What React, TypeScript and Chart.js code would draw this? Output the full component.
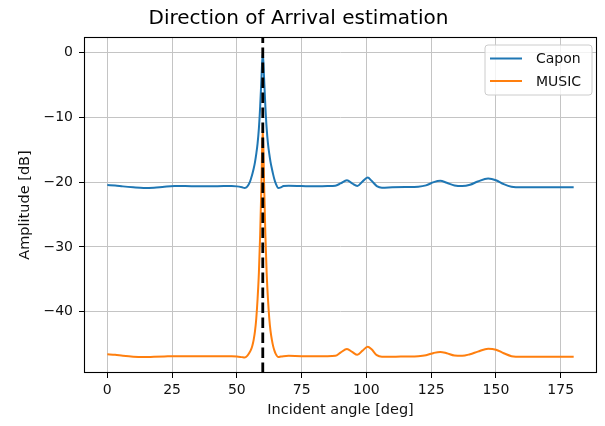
import { useEffect, useRef } from 'react';
import { Chart, registerables } from 'chart.js';

Chart.register(...registerables);

// Incident angles (deg) at which the spectra were sampled
const angles = [
  0, 3, 6, 10, 14, 18, 22, 26, 30, 35, 40, 45, 48, 50, 52, 53, 54, 55, 55.5, 56,
  56.5, 57, 57.5, 58, 58.5, 59, 59.5, 60, 60.5, 61, 61.5, 62, 62.5, 63, 63.5, 64,
  64.5, 65, 66, 67, 68, 70, 75, 80, 85, 88, 90, 92.5, 94.5, 96.5, 98.5, 100.5, 102,
  104, 106, 110, 115, 120, 123, 126, 128.5, 131, 134, 137, 140, 143, 147, 150, 153,
  156, 160, 165, 170, 175, 180,
];

// Capon spectrum (dB)
const caponDb = [
  -20.45, -20.5, -20.65, -20.8, -20.9, -20.85, -20.7, -20.6, -20.6, -20.65, -20.65,
  -20.6, -20.6, -20.65, -20.8, -20.9, -20.7, -20.0, -19.4, -18.7,
  -17.9, -16.9, -15.6, -14.0, -11.7, -8.3, -3.9, 0, -3.9, -8.3, -11.7, -14.0, -15.6,
  -16.9, -17.9, -18.8,
  -19.6, -20.2, -20.9, -20.8, -20.6, -20.55, -20.6, -20.65, -20.6, -20.55, -20.2,
  -19.7, -20.2, -20.6, -19.9, -19.3, -19.8,
  -20.6, -20.85, -20.8, -20.75, -20.7, -20.5, -20.0, -19.8, -20.1, -20.5, -20.6,
  -20.4, -19.9, -19.45, -19.7, -20.3,
  -20.7, -20.8, -20.8, -20.8, -20.8, -20.8,
];

// MUSIC pseudo-spectrum (dB)
const musicDb = [
  -46.55, -46.65, -46.8, -46.95, -47.0, -46.95, -46.9, -46.85, -46.85, -46.85, -46.85,
  -46.85, -46.85, -46.9, -47.0, -47.05, -46.8, -46.2, -45.8, -45.2,
  -44.3, -43.0, -41.0, -38.0, -34.0, -28.0, -20.0, -11.5, -20.0, -28.0, -34.0, -38.0,
  -41.0, -43.0, -44.3, -45.3,
  -46.0, -46.5, -47.0, -46.9, -46.85, -46.8, -46.85, -46.85, -46.85, -46.8, -46.3,
  -45.75, -46.2, -46.65, -46.0, -45.4, -45.8,
  -46.7, -46.95, -46.95, -46.9, -46.85, -46.7, -46.35, -46.2, -46.4, -46.75, -46.8,
  -46.55, -46.15, -45.7, -45.85, -46.4,
  -46.85, -46.95, -46.95, -46.95, -46.95, -46.95,
];

const trueAngle = 60;
const xTicks = [0, 25, 50, 75, 100, 125, 150, 175];
const yTicks = [0, -10, -20, -30, -40];
const xRange = [-9, 189];
const yRange = [-49.45, 2.4];

const seriesLabels = ['Capon', 'MUSIC'];
const seriesColors = ['#1f77b4', '#ff7f0e'];
const titleText = 'Direction of Arrival estimation';
const xLabel = 'Incident angle [deg]';
const yLabel = 'Amplitude [dB]';

const FONT = 'DejaVu Sans';

export default function App() {
  const ref = useRef<HTMLCanvasElement>(null);

  useEffect(() => {
    if (!ref.current) return;

    const framePlugin = {
      id: 'frame',
      afterDatasetsDraw(chart: any) {
        const { ctx, chartArea } = chart;
        ctx.save();
        ctx.strokeStyle = '#000';
        ctx.lineWidth = 1.1;
        const l = Math.round(chartArea.left) + 0.5;
        const t = Math.round(chartArea.top) + 0.5;
        const r = Math.round(chartArea.right) - 0.5;
        const b = Math.round(chartArea.bottom) - 0.5;
        ctx.strokeRect(l, t, r - l, b - t);
        ctx.restore();
      },
    };

    const legendPlugin = {
      id: 'boxLegend',
      afterDraw(chart: any) {
        const { ctx, chartArea } = chart;
        const fs = 14;
        const w = 107;
        const h = 50;
        const x0 = chartArea.right - 5 - w;
        const y0 = chartArea.top + 8;
        ctx.save();
        ctx.beginPath();
        const rr = 3;
        ctx.moveTo(x0 + rr, y0);
        ctx.arcTo(x0 + w, y0, x0 + w, y0 + h, rr);
        ctx.arcTo(x0 + w, y0 + h, x0, y0 + h, rr);
        ctx.arcTo(x0, y0 + h, x0, y0, rr);
        ctx.arcTo(x0, y0, x0 + w, y0, rr);
        ctx.closePath();
        ctx.fillStyle = 'rgba(255,255,255,0.8)';
        ctx.fill();
        ctx.strokeStyle = '#cccccc';
        ctx.lineWidth = 1;
        ctx.stroke();
        ctx.font = `${fs}px "${FONT}"`;
        ctx.textBaseline = 'middle';
        ctx.textAlign = 'left';
        seriesLabels.forEach((lab, i) => {
          const yy = y0 + 13.5 + i * 22.5;
          ctx.strokeStyle = chart.data.datasets[i].borderColor;
          ctx.lineWidth = 2;
          ctx.beginPath();
          ctx.moveTo(x0 + 5, yy);
          ctx.lineTo(x0 + 37, yy);
          ctx.stroke();
          ctx.fillStyle = '#111';
          ctx.fillText(lab, x0 + 51, yy + 1);
        });
        ctx.restore();
      },
    };

    const tickFont = { family: FONT, size: 14 };
    const gridOpts = {
      color: '#c4c4c4',
      lineWidth: 1,
      tickColor: '#000',
      tickLength: 5,
      tickWidth: 1,
      drawTicks: true,
    };

    const chart = new Chart(ref.current, {
      type: 'line',
      data: {
        datasets: [
          {
            label: seriesLabels[0],
            data: angles.map((a, i) => ({ x: a, y: caponDb[i] })),
            borderColor: seriesColors[0],
            borderWidth: 2,
            pointRadius: 0,
            cubicInterpolationMode: 'monotone',
            order: 2,
          },
          {
            label: seriesLabels[1],
            data: angles.map((a, i) => ({ x: a, y: musicDb[i] })),
            borderColor: seriesColors[1],
            borderWidth: 2,
            pointRadius: 0,
            cubicInterpolationMode: 'monotone',
            order: 1,
          },
          {
            label: 'true angle',
            data: [
              { x: trueAngle, y: yRange[0] },
              { x: trueAngle, y: yRange[1] },
            ],
            borderColor: '#000',
            borderWidth: 2.8,
            borderDash: [10.5, 4.5],
            pointRadius: 0,
            tension: 0,
            order: 0,
            clip: 0,
          },
        ],
      } as any,
      options: {
        responsive: false,
        animation: false,
        devicePixelRatio: 1,
        events: [],
        layout: { padding: { left: 0, right: 8, top: 0, bottom: 0 } },
        plugins: {
          legend: { display: false },
          tooltip: { enabled: false },
          title: {
            display: true,
            text: titleText,
            color: '#000',
            font: { family: FONT, size: 20, weight: 'normal' },
            padding: { top: 7, bottom: 6 },
          },
        },
        scales: {
          x: {
            type: 'linear',
            min: xRange[0],
            max: xRange[1],
            afterBuildTicks: (s: any) => {
              s.ticks = xTicks.map((v) => ({ value: v }));
            },
            afterFit: (s: any) => {
              s.height = 53;
            },
            ticks: {
              font: tickFont,
              color: '#111',
              padding: 4,
              maxRotation: 0,
              autoSkip: false,
            },
            grid: gridOpts,
            border: { display: false },
            title: {
              display: true,
              text: xLabel,
              color: '#111',
              font: { family: FONT, size: 14.5 },
              padding: { top: 0, bottom: 7 },
            },
          },
          y: {
            type: 'linear',
            min: yRange[0],
            max: yRange[1],
            afterBuildTicks: (s: any) => {
              s.ticks = yTicks.map((v) => ({ value: v }));
            },
            afterFit: (s: any) => {
              s.width = 84;
            },
            ticks: {
              font: tickFont,
              color: '#111',
              padding: 6,
              autoSkip: false,
              callback: (v: any) => (v < 0 ? '\u2212' + Math.abs(v) : String(v)),
            },
            grid: gridOpts,
            border: { display: false },
            title: {
              display: true,
              text: yLabel,
              color: '#111',
              font: { family: FONT, size: 14.5 },
              padding: { top: 17, bottom: 0 },
            },
          },
        },
      } as any,
      plugins: [framePlugin, legendPlugin],
    });

    return () => chart.destroy();
  }, []);

  return (
    <div style={{ position: 'absolute', left: 0, top: 0, width: 605, height: 426, background: '#fff' }}>
      <canvas ref={ref} width={605} height={426} style={{ display: 'block' }} />
    </div>
  );
}
